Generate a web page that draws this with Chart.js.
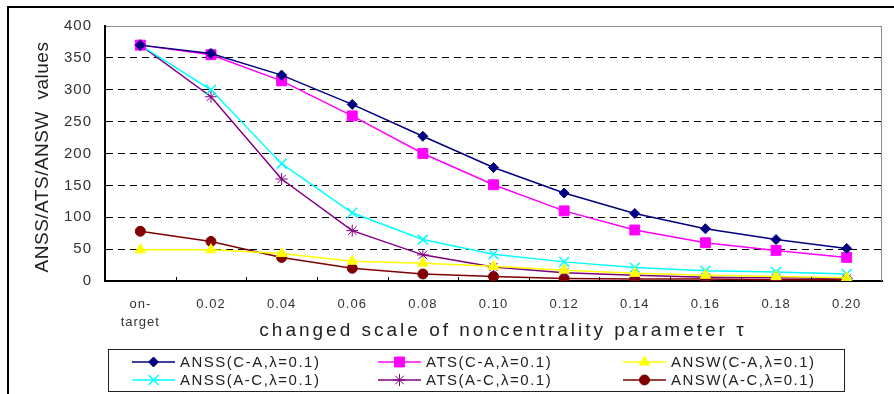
<!DOCTYPE html>
<html>
<head>
<meta charset="utf-8">
<script src="https://cdn.jsdelivr.net/npm/chart.js@4.4.0/dist/chart.umd.min.js"></script>
<style>
  html, body { margin: 0; padding: 0; background: #fff; }
  #wrap { width: 894px; height: 394px; }
</style>
</head>
<body>
<div id="wrap"><canvas id="lineChart" width="894" height="394"></canvas></div>
<script>
const categories = ["on-target", "0.02", "0.04", "0.06", "0.08", "0.10", "0.12", "0.14", "0.16", "0.18", "0.20"];
const yMax = 400;
const yStep = 50;

const anssCA = [370, 357, 323, 277, 227, 178, 138, 106, 82, 65, 51];
const atsCA  = [370, 355, 314, 259, 200, 151, 110, 80, 60, 48, 37];
const answCA = [49, 49, 43, 31, 28, 23, 17, 12, 9, 7, 5];
const anssAC = [370, 300, 184, 107, 65, 42, 30, 21, 16, 14, 11];
const atsAC  = [370, 289, 160, 79, 41, 22, 13, 9, 6, 5, 4];
const answAC = [78, 62, 37, 20, 11, 7, 4, 3, 3, 2, 2];

const yTitle = "ANSS/ATS/ANSW  values";
const xTitle = "changed scale of noncentrality parameter \u03c4";

const FONT = "'Liberation Sans', Arial, sans-serif";

function series(label, data, color, style, radius) {
  return {
    label: label,
    data: data,
    borderColor: color,
    backgroundColor: color,
    pointBackgroundColor: color,
    pointBorderColor: color,
    pointStyle: style,
    pointRadius: radius,
    pointBorderWidth: style === "crossRot" ? 1.5 : 1,
    borderWidth: 1.5,
    tension: 0,
    fill: false
  };
}

// axis titles, frame, little ticks and the two-row legend
const decorations = {
  id: "decorations",
  beforeDraw(chart) {
    chart.ctx.letterSpacing = "1px";
  },
  afterDraw(chart) {
    const ctx = chart.ctx;
    const area = chart.chartArea;
    const x = chart.scales.x;

    ctx.save();
    // outer frame (left + top)
    ctx.strokeStyle = "#000";
    ctx.lineWidth = 2;
    ctx.beginPath();
    ctx.moveTo(8, 394);
    ctx.lineTo(8, 7);
    ctx.lineTo(894, 7);
    ctx.stroke();

    // plot frame right side
    ctx.strokeStyle = "#8c8c8c";
    ctx.lineWidth = 1;
    ctx.beginPath();
    ctx.moveTo(area.right - 0.5, area.top);
    ctx.lineTo(area.right - 0.5, area.bottom);
    ctx.stroke();

    // category separators on the x axis
    ctx.strokeStyle = "#000";
    ctx.lineWidth = 1;
    for (let i = 1; i < categories.length; i++) {
      const px = Math.round((x.getPixelForValue(i - 1) + x.getPixelForValue(i)) / 2) + 0.5;
      ctx.beginPath();
      ctx.moveTo(px, area.bottom - 4);
      ctx.lineTo(px, area.bottom);
      ctx.stroke();
    }

    // y title
    ctx.fillStyle = "#222";
    ctx.font = "19px " + FONT;
    ctx.letterSpacing = "0.5px";
    ctx.textAlign = "center";
    ctx.textBaseline = "alphabetic";
    ctx.save();
    ctx.translate(48, 157);
    ctx.rotate(-Math.PI / 2);
    ctx.fillText(yTitle, 0, 0);
    ctx.restore();

    // x title
    ctx.letterSpacing = "3px";
    ctx.fillText(xTitle, 503, 336);

    // legend
    ctx.strokeStyle = "#222";
    ctx.lineWidth = 1;
    ctx.strokeRect(108.5, 349.5, 736, 42);
    const cols = [132, 378, 623];
    const rows = [362, 380];
    ctx.font = "15px " + FONT;
    ctx.letterSpacing = "1.5px";
    ctx.textAlign = "left";
    ctx.textBaseline = "middle";
    chart.data.datasets.forEach((ds, i) => {
      const lx = cols[i % 3];
      const ly = rows[Math.floor(i / 3)];
      ctx.strokeStyle = ds.borderColor;
      ctx.lineWidth = 1.5;
      ctx.beginPath();
      ctx.moveTo(lx, ly);
      ctx.lineTo(lx + 43, ly);
      ctx.stroke();
      ctx.fillStyle = ds.backgroundColor;
      ctx.lineWidth = ds.pointBorderWidth;
      Chart.helpers.drawPoint(ctx, {
        pointStyle: ds.pointStyle,
        radius: ds.pointRadius,
        rotation: 0,
        borderWidth: ds.pointBorderWidth
      }, lx + 21.5, ly);
      ctx.fillStyle = "#222";
      ctx.fillText(ds.label, lx + 48, ly + 1);
    });
    ctx.restore();
  }
};

const chartCanvas = document.getElementById("lineChart").getContext("2d");
chartCanvas.letterSpacing = "1px";

new Chart(chartCanvas, {
  type: "line",
  data: {
    labels: categories,
    datasets: [
      series("ANSS(C-A,\u03bb=0.1)", anssCA, "#000080", "rectRot", 5),
      series("ATS(C-A,\u03bb=0.1)", atsCA, "#ff00ff", "rect", 7),
      series("ANSW(C-A,\u03bb=0.1)", answCA, "#ffff00", "triangle", 6),
      series("ANSS(A-C,\u03bb=0.1)", anssAC, "#00ffff", "crossRot", 7),
      series("ATS(A-C,\u03bb=0.1)", atsAC, "#800080", "star", 6),
      series("ANSW(A-C,\u03bb=0.1)", answAC, "#800000", "circle", 5)
    ]
  },
  options: {
    responsive: false,
    animation: false,
    devicePixelRatio: 1,
    layout: { padding: { top: 26, right: 12, left: 0, bottom: 0 } },
    plugins: {
      legend: { display: false },
      tooltip: { enabled: false }
    },
    scales: {
      x: {
        offset: true,
        grid: { display: false },
        border: { display: true, color: "#000", width: 2 },
        ticks: {
          color: "#333",
          padding: 6,
          maxRotation: 0,
          autoSkip: false,
          font: { family: FONT, size: 13, lineHeight: 1.4 },
          callback: function (value, index) {
            const lab = categories[index];
            return lab === "on-target" ? ["on-", "target"] : lab;
          }
        },
        afterFit: function (scale) { scale.height = 113; }
      },
      y: {
        min: 0,
        max: yMax,
        grid: {
          drawTicks: false,
          color: (c) => c.tick.value === 0 ? "rgba(0,0,0,0)" : (c.tick.value === yMax ? "#8c8c8c" : "#000"),
          lineWidth: 1
        },
        border: {
          display: true,
          color: "#000",
          width: 2,
          dash: (c) => (c.tick && c.tick.value === yMax) ? [] : [7, 5]
        },
        ticks: {
          stepSize: yStep,
          color: "#333",
          padding: 13,
          font: { family: FONT, size: 15 }
        },
        afterFit: function (scale) { scale.width = 105; }
      }
    }
  },
  plugins: [decorations]
});
</script>
</body>
</html>
